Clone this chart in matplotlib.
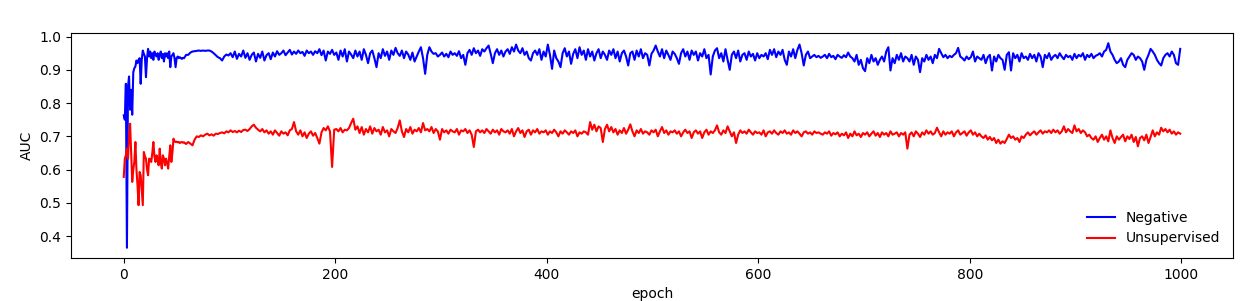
import matplotlib
matplotlib.use("Agg")
import matplotlib.pyplot as plt

# epochs: every epoch for 0-59, then every other epoch 61..999
epochs = list(range(0, 60)) + list(range(61, 1000, 2))

neg_auc = [
    # 0-59
    0.763, 0.750, 0.858, 0.365, 0.850, 0.880, 0.780, 0.840, 0.765, 0.893,
    0.905, 0.910, 0.928, 0.920, 0.930, 0.935, 0.858, 0.930, 0.958, 0.948,
    0.940, 0.878, 0.935, 0.963, 0.940, 0.955, 0.935, 0.950, 0.930, 0.955,
    0.945, 0.940, 0.950, 0.930, 0.945, 0.955, 0.935, 0.948, 0.925, 0.950,
    0.940, 0.950, 0.935, 0.955, 0.908, 0.940, 0.945, 0.950, 0.935, 0.908,
    0.935, 0.940, 0.935, 0.938, 0.935, 0.933, 0.936, 0.935, 0.940, 0.945,
    # 61-999 step 2
    0.945, 0.952, 0.955, 0.956, 0.957, 0.958, 0.957, 0.958, 0.957, 0.958,
    0.958, 0.955, 0.950, 0.944, 0.938, 0.935, 0.928, 0.940, 0.946, 0.943,
    0.950, 0.938, 0.955, 0.933, 0.948, 0.940, 0.958, 0.936, 0.950, 0.930,
    0.945, 0.952, 0.925, 0.948, 0.936, 0.955, 0.928, 0.944, 0.950, 0.932,
    0.952, 0.940, 0.956, 0.945, 0.950, 0.958, 0.944, 0.952, 0.960, 0.946,
    0.955, 0.948, 0.958, 0.950, 0.954, 0.942, 0.958, 0.950, 0.955, 0.945,
    0.956, 0.950, 0.962, 0.944, 0.958, 0.928, 0.955, 0.948, 0.960, 0.945,
    0.952, 0.930, 0.958, 0.940, 0.962, 0.925, 0.955, 0.946, 0.935, 0.958,
    0.940, 0.955, 0.930, 0.962, 0.945, 0.920, 0.950, 0.958, 0.935, 0.908,
    0.950, 0.935, 0.962, 0.942, 0.955, 0.930, 0.958, 0.945, 0.966, 0.950,
    0.942, 0.958, 0.935, 0.955, 0.946, 0.930, 0.952, 0.925, 0.940, 0.955,
    0.968, 0.935, 0.888, 0.945, 0.968, 0.955, 0.948, 0.950, 0.940, 0.945,
    0.952, 0.940, 0.948, 0.938, 0.955, 0.945, 0.950, 0.942, 0.956, 0.935,
    0.945, 0.915, 0.950, 0.960, 0.945, 0.965, 0.950, 0.958, 0.942, 0.962,
    0.955, 0.965, 0.973, 0.948, 0.920, 0.950, 0.962, 0.945, 0.958, 0.940,
    0.955, 0.962, 0.948, 0.968, 0.955, 0.976, 0.958, 0.950, 0.965, 0.945,
    0.955, 0.935, 0.928, 0.950, 0.958, 0.945, 0.962, 0.930, 0.955, 0.940,
    0.976, 0.945, 0.903, 0.958, 0.935, 0.925, 0.908, 0.950, 0.965, 0.940,
    0.955, 0.918, 0.948, 0.962, 0.935, 0.968, 0.945, 0.958, 0.930, 0.962,
    0.940, 0.955, 0.928, 0.950, 0.962, 0.935, 0.955, 0.945, 0.930, 0.958,
    0.945, 0.962, 0.935, 0.955, 0.925, 0.950, 0.958, 0.940, 0.913, 0.950,
    0.955, 0.930, 0.958, 0.940, 0.962, 0.935, 0.950, 0.945, 0.913, 0.948,
    0.958, 0.973, 0.955, 0.940, 0.962, 0.935, 0.958, 0.945, 0.930, 0.955,
    0.948, 0.935, 0.918, 0.950, 0.962, 0.940, 0.955, 0.930, 0.958, 0.945,
    0.955, 0.928, 0.950, 0.940, 0.962, 0.935, 0.945, 0.886, 0.940, 0.958,
    0.965, 0.935, 0.950, 0.925, 0.962, 0.930, 0.900, 0.945, 0.955, 0.935,
    0.958, 0.925, 0.945, 0.950, 0.930, 0.955, 0.940, 0.948, 0.928, 0.950,
    0.935, 0.945, 0.940, 0.950, 0.932, 0.960, 0.945, 0.962, 0.938, 0.955,
    0.945, 0.960, 0.930, 0.915, 0.955, 0.940, 0.962, 0.935, 0.960, 0.976,
    0.950, 0.913, 0.945, 0.955, 0.935, 0.940, 0.945, 0.938, 0.942, 0.936,
    0.940, 0.945, 0.935, 0.948, 0.938, 0.942, 0.932, 0.945, 0.940, 0.936,
    0.944, 0.938, 0.952, 0.940, 0.935, 0.925, 0.945, 0.915, 0.930, 0.905,
    0.896, 0.935, 0.920, 0.945, 0.925, 0.935, 0.915, 0.930, 0.940, 0.925,
    0.955, 0.968, 0.898, 0.935, 0.920, 0.945, 0.930, 0.950, 0.925, 0.940,
    0.935, 0.925, 0.945, 0.915, 0.940, 0.930, 0.893, 0.935, 0.925, 0.945,
    0.930, 0.940, 0.920, 0.945, 0.935, 0.963, 0.950, 0.938, 0.945, 0.935,
    0.942, 0.938, 0.945, 0.950, 0.966, 0.940, 0.935, 0.928, 0.940, 0.932,
    0.938, 0.955, 0.925, 0.940, 0.935, 0.930, 0.945, 0.920, 0.938, 0.945,
    0.898, 0.940, 0.925, 0.945, 0.935, 0.930, 0.900, 0.945, 0.953, 0.898,
    0.950, 0.935, 0.945, 0.925, 0.950, 0.935, 0.940, 0.930, 0.948, 0.935,
    0.945, 0.925, 0.950, 0.940, 0.908, 0.945, 0.935, 0.950, 0.930, 0.940,
    0.945, 0.935, 0.950, 0.940, 0.932, 0.945, 0.938, 0.942, 0.930, 0.948,
    0.935, 0.945, 0.940, 0.950, 0.930, 0.945, 0.938, 0.948, 0.935, 0.942,
    0.945, 0.950, 0.940, 0.955, 0.960, 0.980, 0.955, 0.945, 0.930, 0.920,
    0.925, 0.935, 0.915, 0.908, 0.930, 0.940, 0.950, 0.945, 0.930, 0.940,
    0.935, 0.925, 0.900, 0.930, 0.945, 0.963, 0.955, 0.945, 0.930, 0.920,
    0.913, 0.935, 0.945, 0.950, 0.940, 0.955, 0.945, 0.920, 0.915, 0.963,
]

unsup_auc = [
    # 0-59
    0.578, 0.633, 0.643, 0.663, 0.633, 0.700, 0.738, 0.650, 0.563, 0.600,
    0.623, 0.683, 0.600, 0.553, 0.493, 0.593, 0.583, 0.540, 0.493, 0.653,
    0.640, 0.633, 0.600, 0.583, 0.633, 0.630, 0.623, 0.650, 0.683, 0.640,
    0.623, 0.643, 0.630, 0.613, 0.663, 0.620, 0.603, 0.643, 0.633, 0.613,
    0.633, 0.620, 0.603, 0.640, 0.673, 0.623, 0.650, 0.693, 0.685, 0.683,
    0.684, 0.682, 0.683, 0.680, 0.682, 0.683, 0.681, 0.682, 0.679, 0.677,
    # 61-999 step 2
    0.683, 0.678, 0.673, 0.690, 0.700, 0.698, 0.703, 0.700, 0.705, 0.708,
    0.703, 0.706, 0.702, 0.708, 0.707, 0.710, 0.712, 0.709, 0.715, 0.712,
    0.718, 0.713, 0.716, 0.712, 0.717, 0.713, 0.719, 0.720, 0.716, 0.722,
    0.730, 0.735, 0.726, 0.720, 0.715, 0.722, 0.712, 0.718, 0.708, 0.715,
    0.705, 0.718, 0.710, 0.702, 0.715, 0.708, 0.712, 0.703, 0.718, 0.722,
    0.743, 0.715, 0.705, 0.718, 0.700, 0.712, 0.695, 0.708, 0.715, 0.702,
    0.710, 0.695, 0.678, 0.712, 0.725, 0.718, 0.730, 0.715, 0.608, 0.720,
    0.722, 0.715, 0.725, 0.712, 0.720, 0.718, 0.725, 0.740, 0.753, 0.720,
    0.730, 0.710, 0.728, 0.705, 0.722, 0.712, 0.730, 0.708, 0.725, 0.715,
    0.720, 0.705, 0.728, 0.712, 0.718, 0.700, 0.722, 0.715, 0.710, 0.725,
    0.748, 0.715, 0.698, 0.722, 0.712, 0.728, 0.708, 0.720, 0.715, 0.725,
    0.712, 0.740, 0.718, 0.722, 0.715, 0.728, 0.710, 0.722, 0.715, 0.690,
    0.722, 0.712, 0.718, 0.708, 0.720, 0.715, 0.712, 0.722, 0.705, 0.718,
    0.715, 0.722, 0.710, 0.718, 0.705, 0.668, 0.715, 0.720, 0.712, 0.718,
    0.710, 0.722, 0.715, 0.708, 0.720, 0.712, 0.718, 0.705, 0.722, 0.715,
    0.712, 0.718, 0.708, 0.722, 0.700, 0.715, 0.725, 0.710, 0.718, 0.698,
    0.715, 0.720, 0.705, 0.718, 0.712, 0.722, 0.708, 0.715, 0.712, 0.718,
    0.705, 0.715, 0.710, 0.720, 0.712, 0.700, 0.715, 0.708, 0.718, 0.712,
    0.705, 0.715, 0.710, 0.718, 0.700, 0.712, 0.708, 0.715, 0.712, 0.705,
    0.743, 0.720, 0.735, 0.715, 0.730, 0.725, 0.683, 0.722, 0.735, 0.715,
    0.728, 0.712, 0.722, 0.705, 0.718, 0.710, 0.725, 0.708, 0.720, 0.736,
    0.715, 0.700, 0.718, 0.710, 0.722, 0.708, 0.715, 0.712, 0.705, 0.718,
    0.712, 0.720, 0.700, 0.715, 0.728, 0.710, 0.718, 0.705, 0.715, 0.712,
    0.718, 0.708, 0.715, 0.700, 0.712, 0.720, 0.710, 0.715, 0.695, 0.712,
    0.718, 0.708, 0.715, 0.695, 0.712, 0.720, 0.705, 0.715, 0.710, 0.718,
    0.733, 0.712, 0.705, 0.718, 0.710, 0.730, 0.715, 0.700, 0.712, 0.680,
    0.705, 0.718, 0.710, 0.715, 0.708, 0.720, 0.712, 0.705, 0.715, 0.710,
    0.712, 0.705, 0.718, 0.700, 0.712, 0.715, 0.708, 0.718, 0.710, 0.705,
    0.715, 0.710, 0.718, 0.708, 0.712, 0.705, 0.718, 0.710, 0.715, 0.708,
    0.700, 0.712, 0.715, 0.708, 0.712, 0.705, 0.715, 0.710, 0.712, 0.708,
    0.705, 0.712, 0.708, 0.715, 0.702, 0.710, 0.706, 0.712, 0.700, 0.708,
    0.703, 0.712, 0.695, 0.708, 0.700, 0.715, 0.703, 0.708, 0.698, 0.710,
    0.705, 0.712, 0.700, 0.708, 0.715, 0.702, 0.710, 0.698, 0.712, 0.705,
    0.710, 0.700, 0.715, 0.705, 0.708, 0.712, 0.700, 0.710, 0.705, 0.712,
    0.663, 0.705, 0.712, 0.700, 0.715, 0.708, 0.698, 0.712, 0.705, 0.718,
    0.708, 0.715, 0.705, 0.710, 0.726, 0.712, 0.700, 0.715, 0.705, 0.712,
    0.708, 0.715, 0.700, 0.712, 0.718, 0.705, 0.710, 0.715, 0.702, 0.712,
    0.718, 0.705, 0.712, 0.700, 0.708, 0.700, 0.695, 0.703, 0.690, 0.698,
    0.688, 0.695, 0.680, 0.690, 0.678, 0.685, 0.680, 0.692, 0.705, 0.695,
    0.700, 0.690, 0.695, 0.683, 0.700, 0.695, 0.705, 0.712, 0.703, 0.710,
    0.715, 0.705, 0.712, 0.718, 0.708, 0.715, 0.712, 0.718, 0.710, 0.720,
    0.712, 0.718, 0.708, 0.715, 0.730, 0.712, 0.722, 0.715, 0.710, 0.733,
    0.715, 0.722, 0.710, 0.718, 0.712, 0.700, 0.705, 0.695, 0.690, 0.700,
    0.683, 0.695, 0.705, 0.690, 0.700, 0.685, 0.718, 0.695, 0.680, 0.700,
    0.690, 0.698, 0.705, 0.685, 0.700, 0.692, 0.705, 0.683, 0.698, 0.670,
    0.695, 0.700, 0.688, 0.705, 0.680, 0.698, 0.718, 0.700, 0.712, 0.705,
    0.726, 0.715, 0.722, 0.712, 0.720, 0.708, 0.715, 0.705, 0.712, 0.708,
]

series_labels = ["Negative", "Unsupervised"]
series_colors = ["blue", "red"]

fig = plt.figure(figsize=(12.6, 3.01), dpi=100)
ax = fig.add_subplot(111)
fig.subplots_adjust(left=0.0563, right=0.9786, top=0.8904, bottom=0.1429)

ax.plot(epochs, neg_auc, color=series_colors[0], label=series_labels[0])
ax.plot(epochs, unsup_auc, color=series_colors[1], label=series_labels[1])
ax.set_xlabel("epoch")
ax.set_ylabel("AUC")
ax.legend(loc="lower right", frameon=False)

fig.savefig("out.png", dpi=100)
